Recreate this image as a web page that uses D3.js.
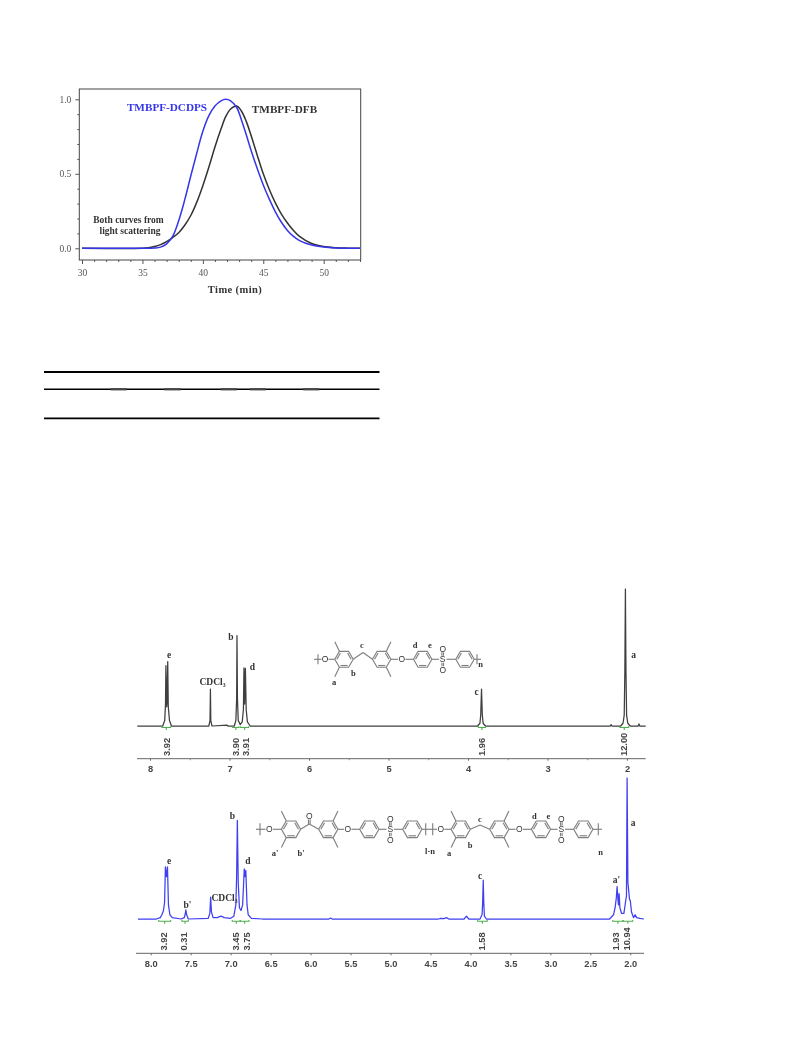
<!DOCTYPE html>
<html><head><meta charset="utf-8">
<script src="https://cdn.jsdelivr.net/npm/d3@7"></script>
<style>
html,body{margin:0;padding:0;background:#fff}
svg{display:block;filter:blur(0.5px)}
text{font-family:"Liberation Serif",serif}
</style></head><body><svg id="c" width="793" height="1057"></svg>
<script>
// ---------- GPC chromatogram values: time (min), normalised signal
const gpcTime = [30,35,35.5,36,36.5,37,37.5,38,38.5,39,39.5,40,40.5,41,41.5,41.9,42.3,42.8,43.2,43.6,44,44.5,45,45.5,46,46.5,47,47.5,48,49,50,51,52,53];
const gpcDCDPS = [0,0,0.001,0.002,0.008,0.03,0.08,0.185,0.325,0.485,0.64,0.785,0.89,0.955,0.99,1.0,0.99,0.945,0.86,0.76,0.655,0.535,0.425,0.33,0.245,0.175,0.12,0.08,0.052,0.022,0.008,0.002,0,0];
const gpcDFB = [0,0,0.003,0.012,0.025,0.045,0.072,0.105,0.155,0.22,0.31,0.42,0.545,0.68,0.80,0.885,0.935,0.955,0.92,0.85,0.755,0.625,0.50,0.395,0.305,0.23,0.17,0.12,0.08,0.032,0.012,0.004,0.001,0];
const gpcXTicks = [30,35,40,45,50];
const gpcYTicks = [0,0.5,1];
const gpcYMinor = [0.1,0.2,0.3,0.4,0.6,0.7,0.8,0.9];
const gpcXMinor = [31,32,33,34,36,37,38,39,41,42,43,44,46,47,48,49,51,52,53];

// ---------- 1H NMR spectrum of TMBPF-DCDPS: ppm, intensity
const nmrTopPpm = [8.16,7.84,7.815,7.805,7.80,7.79,7.785,7.777,7.77,7.755,7.73,7.26,7.245,7.24,7.235,7.22,7.03,7.02,6.94,6.92,6.91,6.906,6.90,6.89,6.865,6.84,6.825,6.818,6.81,6.80,6.79,6.775,6.74,3.88,3.85,3.84,3.83,3.82,3.81,3.78,2.21,2.2,2.19,2.08,2.05,2.035,2.027,2.02,2.013,2.005,1.99,1.96,1.86,1.85,1.84,1.765];
const nmrTopInt = [0,0,4,16,44,14,18,47,14,4,0,0,4,27,4,0,0.6,0,0,4,20,66,20,4,1,3,12,42.5,16,42,12,3,0,0,2,8,27,8,2,0,0,1,0,0,2,8,40,100,40,8,2,0,0,1.5,0,0];

// ---------- 1H NMR spectrum of the copolymer
const nmrBotPpm = [8.16,7.93,7.88,7.86,7.84,7.826,7.816,7.803,7.79,7.778,7.76,7.73,7.62,7.58,7.57,7.56,7.55,7.53,7.28,7.26,7.25,7.24,7.22,7.17,7.12,7.08,7.0,6.96,6.935,6.925,6.916,6.905,6.89,6.87,6.85,6.84,6.83,6.82,6.81,6.795,6.78,6.74,6.6,5.77,5.75,5.73,4.4,4.37,4.33,4.3,4.27,4.08,4.05,4.02,3.88,3.855,3.848,3.84,3.832,3.825,3.8,3.0,2.26,2.21,2.19,2.175,2.165,2.155,2.148,2.14,2.13,2.11,2.08,2.055,2.048,2.04,2.03,2.01,2.0,1.985,1.96,1.94,1.92,1.88,1.83];
const nmrBotInt = [0,0,1,3,6,12,37,30,37,10,3,1,0,1,3,6.5,3,0,0.5,4,15.5,5,1,1,2,1,0.5,2,10,30,70,26,8,6,10,22,35.5,30,34.5,10,3,0.5,0,0,0.7,0,0,0.5,0.3,1,0,0,2,0,0,3,10,27.5,10,2,0,0,0,3,8,15,23,14,10,18,8,4,4,14,16,100,26,14,13,5,1,3,1,0.5,0];

// ---------- integrals
const topIntegralLabels = ["3.92","3.90","3.91","1.96","12.00"];
const topIntegralPpm = [7.79,6.92,6.795,3.82,2.04];
const topIntegralRange = [[7.85,7.74],[6.96,6.88],[6.86,6.76],[3.87,3.78],[2.09,1.98]];
const botIntegralLabels = ["3.92","0.31","3.45","3.75","1.58","1.93","10.94"];
const botIntegralPpm = [7.83,7.58,6.93,6.80,3.86,2.18,2.04];
const botIntegralRange = [[7.9,7.75],[7.61,7.53],[6.98,6.88],[6.88,6.77],[3.91,3.79],[2.22,2.09],[2.09,1.97]];
const topPpmTicks = [8,7,6,5,4,3,2];
const topPpmMinor = [7.5,6.5,5.5,4.5,3.5,2.5];
const botPpmTicks = [8,7.5,7,6.5,6,5.5,5,4.5,4,3.5,3,2.5,2];

const svg = d3.select("#c");
const SERIF = '"Liberation Serif",serif', SANS = '"Liberation Sans",sans-serif';
function label(g,x,y,t,o={}){
  return g.append("text").attr("x",x).attr("y",y).text(t)
   .attr("text-anchor",o.anchor||"middle").attr("dominant-baseline","central")
   .attr("font-size",o.size||9).attr("font-weight",o.weight||"bold")
   .attr("fill",o.fill||"#333").style("font-family",o.font||SERIF)
   .attr("letter-spacing",o.ls||null);
}

// ================= GPC panel =================
(function(){
  const x = d3.scaleLinear().domain([30,50]).range([82,323.7]);
  const y = d3.scaleLinear().domain([0,1]).range([248.3,99.3]);
  const L=79.3,R=360.7,T=89,B=260;
  const g = svg.append("g");
  g.append("rect").attr("x",L).attr("y",T).attr("width",R-L).attr("height",B-T)
    .attr("fill","none").attr("stroke","#444").attr("stroke-width",1);
  function style(a){a.select(".domain").remove();a.selectAll("line").attr("stroke","#555");
    a.selectAll("text").style("font-family",SERIF).attr("font-size",9.5).attr("fill","#555");}
  g.append("g").attr("transform",`translate(0,${B})`).call(d3.axisBottom(x).tickValues(gpcXMinor).tickSize(2).tickFormat("")).call(style);
  g.append("g").attr("transform",`translate(0,${B})`).call(d3.axisBottom(x).tickValues(gpcXTicks).tickSize(4).tickPadding(5).tickFormat(d3.format("d"))).call(style);
  g.append("g").attr("transform",`translate(${L},0)`).call(d3.axisLeft(y).tickValues(gpcYMinor).tickSize(2).tickFormat("")).call(style);
  g.append("g").attr("transform",`translate(${L},0)`).call(d3.axisLeft(y).tickValues(gpcYTicks).tickSize(4).tickPadding(4).tickFormat(d3.format(".1f"))).call(style);
  const line = vals => d3.line().x((d,i)=>x(gpcTime[i])).y(d=>y(d)).curve(d3.curveCatmullRom.alpha(0.5))(vals);
  g.append("path").attr("d",line(gpcDFB)).attr("fill","none").attr("stroke","#333").attr("stroke-width",1.5);
  g.append("path").attr("d",line(gpcDCDPS)).attr("fill","none").attr("stroke","#3535ea").attr("stroke-width",1.5);
  label(g,167,106.5,"TMBPF-DCDPS",{size:11.2,fill:"#3535ea"});
  label(g,284.5,109,"TMBPF-DFB",{size:11.2,fill:"#333"});
  label(g,128.5,219.5,"Both curves from",{size:9.5,fill:"#333"});
  label(g,130,231,"light scattering",{size:9.5,fill:"#333"});
  label(g,235,289.5,"Time (min)",{size:10.5,fill:"#333",ls:0.4});
})();

// ================= table rules =================
(function(){
  const g = svg.append("g");
  [[372,1.8,"#000"],[389.3,1.5,"#000"],[418.3,1.7,"#000"]].forEach(r=>
    g.append("line").attr("x1",44).attr("x2",379.5).attr("y1",r[0]).attr("y2",r[0]).attr("stroke",r[2]).attr("stroke-width",r[1]));
  [[110.7,126.7],[164.3,180.7],[220.7,236.7],[250,266],[303.3,319.3]].forEach(r=>
    g.append("line").attr("x1",r[0]).attr("x2",r[1]).attr("y1",389.3).attr("y2",389.3).attr("stroke","#444").attr("stroke-width",2.2));
})();

// ================= NMR panels =================
function nmr(o){
  const x = d3.scaleLinear().domain(o.xd).range(o.xr);
  const y = d3.scaleLinear().domain([0,100]).range([o.base,o.top]);
  const g = svg.append("g");
  g.append("line").attr("x1",o.axL).attr("x2",o.axR).attr("y1",o.axY).attr("y2",o.axY).attr("stroke","#666").attr("stroke-width",1);
  const ax = g.append("g").attr("transform",`translate(0,${o.axY})`)
    .call(d3.axisBottom(x).tickValues(o.ticks).tickSize(2).tickPadding(5).tickFormat(d3.format(o.fmt)));
  ax.select(".domain").remove(); ax.selectAll("line").attr("stroke","#666");
  ax.selectAll("text").style("font-family",SANS).attr("font-size",9.3).attr("font-weight","bold").attr("fill","#444");
  if(o.minor){const m=g.append("g").attr("transform",`translate(0,${o.axY})`).call(d3.axisBottom(x).tickValues(o.minor).tickSize(1.5).tickFormat(""));
    m.select(".domain").remove(); m.selectAll("line").attr("stroke","#888");}
  const path = d3.line().x((d,i)=>x(o.ppm[i])).y(d=>y(d));
  g.append("path").attr("d",path(o.int)).attr("fill","none").attr("stroke",o.color).attr("stroke-width",o.sw).attr("stroke-linejoin","round");
  o.ranges.forEach(r=>{
    const a=x(r[0]),b=x(r[1]),yy=o.base+o.intOff;
    g.append("path").attr("d",`M${a},${yy-1.2}V${yy}H${b}V${yy-1.2}M${(a+b)/2},${yy}v2.5`).attr("fill","none").attr("stroke","#4fb04f").attr("stroke-width",1.1);
  });
  o.labels.forEach((t,i)=>{
    const px=x(o.labPpm[i]);
    g.append("text").attr("transform",`translate(${px},${o.labEnd}) rotate(-90)`).text(t)
      .attr("text-anchor","start").attr("dominant-baseline","central")
      .attr("font-size",9.3).attr("font-weight","bold").attr("fill","#444").style("font-family",SANS);
  });
}
nmr({xd:[8,2],xr:[150,627],base:726,top:589,axL:137,axR:645.7,axY:758.7,ppm:nmrTopPpm,int:nmrTopInt,color:"#3f3f3f",sw:1.25,
  ticks:topPpmTicks,minor:topPpmMinor,fmt:"d",ranges:topIntegralRange,intOff:1.5,labels:topIntegralLabels,labPpm:topIntegralPpm,labEnd:756});
nmr({xd:[8,2],xr:[150.7,630.3],base:919,top:778,axL:136,axR:644,axY:953.3,ppm:nmrBotPpm,int:nmrBotInt,color:"#3f3ff2",sw:1.25,
  ticks:botPpmTicks,fmt:".1f",ranges:botIntegralRange,intOff:2.3,labels:botIntegralLabels,labPpm:botIntegralPpm,labEnd:950.5});

// peak letters
const g2 = svg.append("g");
[[169,654.5,"e",9.5],[231,636.5,"b",9.5],[212.5,682,"CDCl₃",9.5],[252.5,666.5,"d",9.5],[476.5,691.5,"c",9.5],[633.5,654.5,"a",9.5],
 [169,860.5,"e",9.5],[232.5,815.5,"b",9.5],[187.5,905,"b'",9.5],[224.5,897.5,"CDCl₃",9.5],[248,861,"d",9.5],[480,876,"c",9.5],[616.5,879.5,"a'",9.5],[633,823,"a",9.5]]
 .forEach(d=>label(g2,d[0],d[1],d[2],{size:d[3]}));

// ================= structures =================
const mol = svg.append("g").attr("fill","none").attr("stroke","#808080").attr("stroke-width",1.15);
function bond(a,b,c,d){mol.append("line").attr("x1",a).attr("y1",b).attr("x2",c).attr("y2",d);}
function ring(cx,cy,R){
  const pts=d3.range(6).map(i=>[cx+R*Math.cos(i*Math.PI/3),cy+R*Math.sin(i*Math.PI/3)]);
  mol.append("polygon").attr("points",pts.map(p=>p.join(",")).join(" "));
  [[1,2],[3,4],[5,0]].forEach(e=>{
    const p=pts[e[0]],q=pts[e[1]],f=0.78;
    bond(cx+(p[0]-cx)*f,cy+(p[1]-cy)*f,cx+(q[0]-cx)*f,cy+(q[1]-cy)*f);
  });
}
function atom(x,y,t){label(svg,x,y,t,{size:8.5,weight:"normal",fill:"#333",font:SANS});}
function methyls(cx,cy,R,side){
  const vx=cx+side*R/2, ox=cx+side*R;
  bond(vx,cy-R*0.87,ox,cy-R*1.9); bond(vx,cy+R*0.87,ox,cy+R*1.9);
}
function sulfone(x,y){
  atom(x,y,"S"); atom(x,y-10.3,"O"); atom(x,y+10.3,"O");
  bond(x-0.8,y-3.5,x-0.8,y-7); bond(x+0.8,y-3.5,x+0.8,y-7);
  bond(x-0.8,y+3.5,x-0.8,y+7); bond(x+0.8,y+3.5,x+0.8,y+7);
}
// top structure
(function(){
  const y=659.3,R=9.2;
  ring(344,y,R);ring(381.7,y,R);ring(422.7,y,R);ring(465,y,R);
  methyls(344,y,R,-1);methyls(381.7,y,R,1);
  bond(344+R,y,363,652.5);bond(363,652.5,381.7-R,y);
  bond(314,y,321.5,y);bond(328.5,y,344-R,y);
  bond(318,y-5,318,y+5);
  bond(381.7+R,y,398,y);bond(405.5,y,422.7-R,y);
  bond(422.7+R,y,439,y);bond(446.5,y,465-R,y);
  bond(465+R,y,481,y);bond(477,y-5,477,y+5);
  atom(325,y,"O");atom(401.7,y,"O");sulfone(442.7,y);
  [[362,645,"c"],[415,645,"d"],[430,645,"e"],[334,681.7,"a"],[353.3,673.3,"b"],[480.5,664,"n"]].forEach(d=>label(svg,d[0],d[1],d[2],{size:8.5}));
})();
// bottom structure
(function(){
  const y=829.3,R=9.6;
  [291,328.3,369.3,412.3,460.7,499.3,541,583.3].forEach(c=>ring(c,y,R));
  methyls(291,y,R,-1);methyls(328.3,y,R,1);methyls(460.7,y,R,-1);methyls(499.3,y,R,1);
  bond(291+R,y,309.3,824);bond(309.3,824,328.3-R,y);
  bond(308.5,824,308.5,819.5);bond(310.1,824,310.1,819.5);
  atom(309.3,815.7,"O");
  bond(460.7+R,y,480,825);bond(480,825,499.3-R,y);
  atom(269.3,y,"O");bond(256,y,265.5,y);bond(273,y,291-R,y);
  bond(260,y-6,260,y+6);
  bond(328.3+R,y,344,y);atom(347.7,y,"O");bond(351.5,y,369.3-R,y);
  bond(369.3+R,y,386.5,y);sulfone(390.3,y);bond(394,y,412.3-R,y);
  bond(412.3+R,y,429,y);bond(425.7,y-6,425.7,y+6);
  bond(432.7,y-6,432.7,y+6);bond(429,y,437,y);atom(440.7,y,"O");bond(444.5,y,460.7-R,y);
  bond(499.3+R,y,515.5,y);atom(519.3,y,"O");bond(523,y,541-R,y);
  bond(541+R,y,557.5,y);sulfone(561.3,y);bond(565,y,583.3-R,y);
  bond(583.3+R,y,602,y);bond(598.3,y-6,598.3,y+6);
  [[275,852.7,"a'"],[301,853,"b'"],[430,851,"l-n"],[449,852.7,"a"],[470,845,"b"],[480,819.3,"c"],[534.3,816,"d"],[548.3,816,"e"],[600.7,851.7,"n"]].forEach(d=>label(svg,d[0],d[1],d[2],{size:8.5}));
})();
</script></body></html>
